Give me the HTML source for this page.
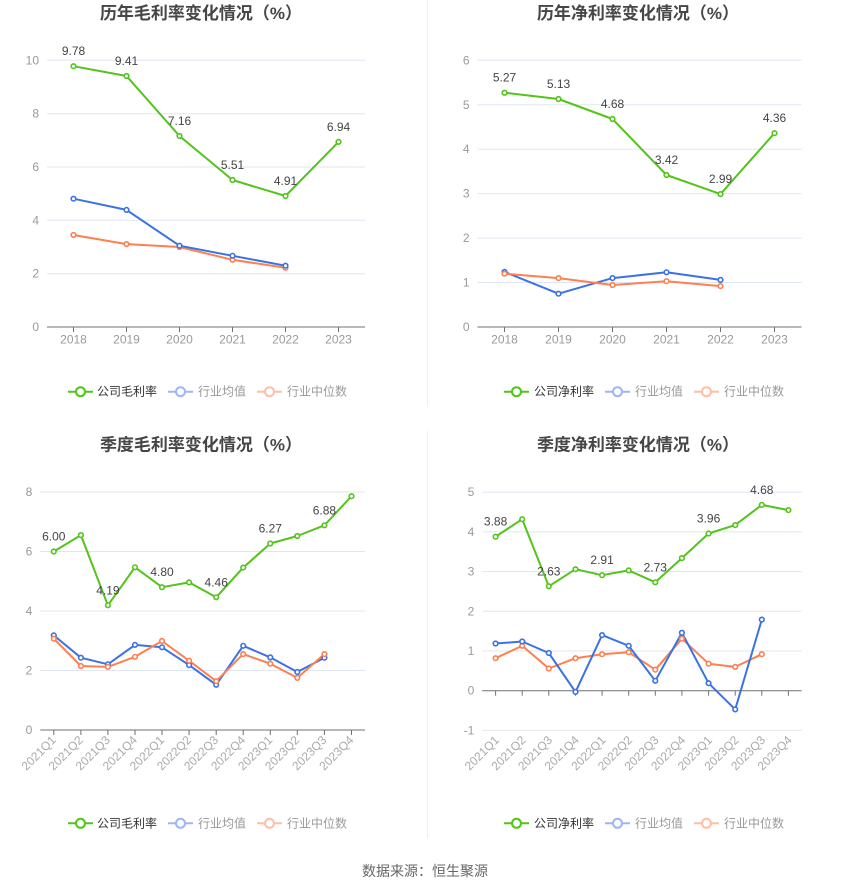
<!DOCTYPE html>
<html><head><meta charset="utf-8"><style>
html,body{margin:0;padding:0;background:#fff;}
svg{display:block;font-family:"Liberation Sans","Noto Sans CJK SC",sans-serif;}
.t{font-size:17px;font-weight:bold;fill:#464646;text-anchor:middle;dominant-baseline:central;}
.g{stroke:#e0e6f1;stroke-width:1;}
.ax{stroke:#6e7079;stroke-width:1;}
.yl{font-size:12px;fill:#999;text-anchor:end;dominant-baseline:central;}
.xl{font-size:12px;fill:#999;text-anchor:middle;dominant-baseline:central;}
.xr{font-size:12px;fill:#aaa;text-anchor:end;dominant-baseline:central;}
.dl{font-size:12px;fill:#444;text-anchor:middle;dominant-baseline:central;}
.lg{font-size:12px;dominant-baseline:central;}
.ln{fill:none;stroke-width:2;stroke-linejoin:round;}
.gr{stroke:#52c41a;}
.bl{stroke:#3a72e6;}
.or{stroke:#fe7f4f;}
.mk circle{fill:#fff;stroke-width:1.6;}
</style></head><body>
<svg width="850" height="891" viewBox="0 0 850 891" xmlns="http://www.w3.org/2000/svg">
<!-- dividers -->
<line x1="427.5" y1="0" x2="427.5" y2="407" stroke="#eeeeee"/>
<line x1="427.5" y1="431" x2="427.5" y2="838" stroke="#eeeeee"/>

<!-- ================= Chart 1 ================= -->
<text class="t" x="201" y="13.5">历年毛利率变化情况（%）</text>
<g>
<line class="g" x1="47" y1="60.3" x2="365" y2="60.3"/>
<line class="g" x1="47" y1="113.7" x2="365" y2="113.7"/>
<line class="g" x1="47" y1="167" x2="365" y2="167"/>
<line class="g" x1="47" y1="220.3" x2="365" y2="220.3"/>
<line class="g" x1="47" y1="273.7" x2="365" y2="273.7"/>
<line class="ax" x1="47" y1="327" x2="365" y2="327"/>
<g class="ax">
<line x1="73.5" y1="327" x2="73.5" y2="332"/><line x1="126.5" y1="327" x2="126.5" y2="332"/><line x1="179.5" y1="327" x2="179.5" y2="332"/><line x1="232.5" y1="327" x2="232.5" y2="332"/><line x1="285.5" y1="327" x2="285.5" y2="332"/><line x1="338.5" y1="327" x2="338.5" y2="332"/>
</g>
<text class="yl" x="39" y="60.3">10</text><text class="yl" x="39" y="113.7">8</text><text class="yl" x="39" y="167">6</text><text class="yl" x="39" y="220.3">4</text><text class="yl" x="39" y="273.7">2</text><text class="yl" x="39" y="327">0</text>
<text class="xl" x="73.5" y="339.5">2018</text><text class="xl" x="126.5" y="339.5">2019</text><text class="xl" x="179.5" y="339.5">2020</text><text class="xl" x="232.5" y="339.5">2021</text><text class="xl" x="285.5" y="339.5">2022</text><text class="xl" x="338.5" y="339.5">2023</text>
<polyline class="ln or" points="73.5,235 126.5,244.1 179.5,247 232.5,259.8 285.5,267.8"/>
<polyline class="ln bl" points="73.5,198.7 126.5,209.9 179.5,245.7 232.5,255.8 285.5,265.7"/>
<polyline class="ln gr" points="73.5,66.2 126.5,76 179.5,136 232.5,180 285.5,196 338.5,141.9"/>
<g class="mk or"><circle cx="73.5" cy="235" r="2.3"/><circle cx="126.5" cy="244.1" r="2.3"/><circle cx="179.5" cy="247" r="2.3"/><circle cx="232.5" cy="259.8" r="2.3"/><circle cx="285.5" cy="267.8" r="2.3"/></g>
<g class="mk bl"><circle cx="73.5" cy="198.7" r="2.3"/><circle cx="126.5" cy="209.9" r="2.3"/><circle cx="179.5" cy="245.7" r="2.3"/><circle cx="232.5" cy="255.8" r="2.3"/><circle cx="285.5" cy="265.7" r="2.3"/></g>
<g class="mk gr"><circle cx="73.5" cy="66.2" r="2.3"/><circle cx="126.5" cy="76" r="2.3"/><circle cx="179.5" cy="136" r="2.3"/><circle cx="232.5" cy="180" r="2.3"/><circle cx="285.5" cy="196" r="2.3"/><circle cx="338.5" cy="141.9" r="2.3"/></g>
<text class="dl" x="73.5" y="51">9.78</text><text class="dl" x="126.5" y="61">9.41</text><text class="dl" x="179.5" y="121">7.16</text><text class="dl" x="232.5" y="165">5.51</text><text class="dl" x="285.5" y="181">4.91</text><text class="dl" x="338.5" y="127">6.94</text>
<!-- legend -->
<line x1="68" y1="391.7" x2="93" y2="391.7" stroke="#52c41a" stroke-width="2"/><circle cx="80.5" cy="391.7" r="4.5" fill="#fff" stroke="#52c41a" stroke-width="2"/>
<text class="lg" x="97" y="391.7" fill="#333">公司毛利率</text>
<line x1="168" y1="391.7" x2="193" y2="391.7" stroke="#9cb8f2" stroke-width="2"/><circle cx="180.5" cy="391.7" r="4.5" fill="#fff" stroke="#9cb8f2" stroke-width="2"/>
<text class="lg" x="198" y="391.7" fill="#999">行业均值</text>
<line x1="257" y1="391.7" x2="282" y2="391.7" stroke="#ffbea6" stroke-width="2"/><circle cx="269.5" cy="391.7" r="4.5" fill="#fff" stroke="#ffbea6" stroke-width="2"/>
<text class="lg" x="287" y="391.7" fill="#999">行业中位数</text>
</g>

<!-- ================= Chart 2 ================= -->
<text class="t" x="638" y="13.5">历年净利率变化情况（%）</text>
<g>
<line class="g" x1="477.5" y1="60.3" x2="801.5" y2="60.3"/>
<line class="g" x1="477.5" y1="104.75" x2="801.5" y2="104.75"/>
<line class="g" x1="477.5" y1="149.2" x2="801.5" y2="149.2"/>
<line class="g" x1="477.5" y1="193.65" x2="801.5" y2="193.65"/>
<line class="g" x1="477.5" y1="238.1" x2="801.5" y2="238.1"/>
<line class="g" x1="477.5" y1="282.55" x2="801.5" y2="282.55"/>
<line class="ax" x1="477.5" y1="327" x2="801.5" y2="327"/>
<g class="ax">
<line x1="504.5" y1="327" x2="504.5" y2="332"/><line x1="558.5" y1="327" x2="558.5" y2="332"/><line x1="612.5" y1="327" x2="612.5" y2="332"/><line x1="666.5" y1="327" x2="666.5" y2="332"/><line x1="720.5" y1="327" x2="720.5" y2="332"/><line x1="774.5" y1="327" x2="774.5" y2="332"/>
</g>
<text class="yl" x="469.5" y="60.3">6</text><text class="yl" x="469.5" y="104.75">5</text><text class="yl" x="469.5" y="149.2">4</text><text class="yl" x="469.5" y="193.65">3</text><text class="yl" x="469.5" y="238.1">2</text><text class="yl" x="469.5" y="282.55">1</text><text class="yl" x="469.5" y="327">0</text>
<text class="xl" x="504.5" y="339.5">2018</text><text class="xl" x="558.5" y="339.5">2019</text><text class="xl" x="612.5" y="339.5">2020</text><text class="xl" x="666.5" y="339.5">2021</text><text class="xl" x="720.5" y="339.5">2022</text><text class="xl" x="774.5" y="339.5">2023</text>
<polyline class="ln bl" points="504.5,271.9 558.5,293.7 612.5,278.1 666.5,272.3 720.5,279.9"/>
<polyline class="ln or" points="504.5,273.7 558.5,278.1 612.5,285 666.5,281.2 720.5,286.1"/>
<polyline class="ln gr" points="504.5,92.75 558.5,99 612.5,119 666.5,175 720.5,194.1 774.5,133.2"/>
<g class="mk bl"><circle cx="504.5" cy="271.9" r="2.3"/><circle cx="558.5" cy="293.7" r="2.3"/><circle cx="612.5" cy="278.1" r="2.3"/><circle cx="666.5" cy="272.3" r="2.3"/><circle cx="720.5" cy="279.9" r="2.3"/></g>
<g class="mk or"><circle cx="504.5" cy="273.7" r="2.3"/><circle cx="558.5" cy="278.1" r="2.3"/><circle cx="612.5" cy="285" r="2.3"/><circle cx="666.5" cy="281.2" r="2.3"/><circle cx="720.5" cy="286.1" r="2.3"/></g>
<g class="mk gr"><circle cx="504.5" cy="92.75" r="2.3"/><circle cx="558.5" cy="99" r="2.3"/><circle cx="612.5" cy="119" r="2.3"/><circle cx="666.5" cy="175" r="2.3"/><circle cx="720.5" cy="194.1" r="2.3"/><circle cx="774.5" cy="133.2" r="2.3"/></g>
<text class="dl" x="504.5" y="77.7">5.27</text><text class="dl" x="558.5" y="84">5.13</text><text class="dl" x="612.5" y="104">4.68</text><text class="dl" x="666.5" y="160">3.42</text><text class="dl" x="720.5" y="179">2.99</text><text class="dl" x="774.5" y="118.2">4.36</text>
<line x1="504" y1="391.7" x2="529" y2="391.7" stroke="#52c41a" stroke-width="2"/><circle cx="516.5" cy="391.7" r="4.5" fill="#fff" stroke="#52c41a" stroke-width="2"/>
<text class="lg" x="534" y="391.7" fill="#333">公司净利率</text>
<line x1="605" y1="391.7" x2="630" y2="391.7" stroke="#9cb8f2" stroke-width="2"/><circle cx="617.5" cy="391.7" r="4.5" fill="#fff" stroke="#9cb8f2" stroke-width="2"/>
<text class="lg" x="635" y="391.7" fill="#999">行业均值</text>
<line x1="694" y1="391.7" x2="719" y2="391.7" stroke="#ffbea6" stroke-width="2"/><circle cx="706.5" cy="391.7" r="4.5" fill="#fff" stroke="#ffbea6" stroke-width="2"/>
<text class="lg" x="724" y="391.7" fill="#999">行业中位数</text>
</g>

<!-- ================= Chart 3 ================= -->
<text class="t" x="201" y="445">季度毛利率变化情况（%）</text>
<g>
<line class="g" x1="40.3" y1="492" x2="365" y2="492"/>
<line class="g" x1="40.3" y1="551.5" x2="365" y2="551.5"/>
<line class="g" x1="40.3" y1="611" x2="365" y2="611"/>
<line class="g" x1="40.3" y1="670.5" x2="365" y2="670.5"/>
<line class="ax" x1="40.3" y1="730" x2="365" y2="730"/>
<g class="ax">
<line x1="53.8" y1="730" x2="53.8" y2="735"/><line x1="80.9" y1="730" x2="80.9" y2="735"/><line x1="107.9" y1="730" x2="107.9" y2="735"/><line x1="135" y1="730" x2="135" y2="735"/><line x1="162" y1="730" x2="162" y2="735"/><line x1="189.1" y1="730" x2="189.1" y2="735"/><line x1="216.2" y1="730" x2="216.2" y2="735"/><line x1="243.2" y1="730" x2="243.2" y2="735"/><line x1="270.3" y1="730" x2="270.3" y2="735"/><line x1="297.3" y1="730" x2="297.3" y2="735"/><line x1="324.4" y1="730" x2="324.4" y2="735"/><line x1="351.5" y1="730" x2="351.5" y2="735"/>
</g>
<text class="yl" x="32.3" y="492">8</text><text class="yl" x="32.3" y="551.5">6</text><text class="yl" x="32.3" y="611">4</text><text class="yl" x="32.3" y="670.5">2</text><text class="yl" x="32.3" y="730">0</text>
<text class="xr" transform="translate(53.8,738) rotate(-45)">2021Q1</text>
<text class="xr" transform="translate(80.9,738) rotate(-45)">2021Q2</text>
<text class="xr" transform="translate(107.9,738) rotate(-45)">2021Q3</text>
<text class="xr" transform="translate(135,738) rotate(-45)">2021Q4</text>
<text class="xr" transform="translate(162,738) rotate(-45)">2022Q1</text>
<text class="xr" transform="translate(189.1,738) rotate(-45)">2022Q2</text>
<text class="xr" transform="translate(216.2,738) rotate(-45)">2022Q3</text>
<text class="xr" transform="translate(243.2,738) rotate(-45)">2022Q4</text>
<text class="xr" transform="translate(270.3,738) rotate(-45)">2023Q1</text>
<text class="xr" transform="translate(297.3,738) rotate(-45)">2023Q2</text>
<text class="xr" transform="translate(324.4,738) rotate(-45)">2023Q3</text>
<text class="xr" transform="translate(351.5,738) rotate(-45)">2023Q4</text>
<polyline class="ln bl" points="53.8,635.4 80.9,657.7 107.9,664.3 135,644.9 162,647.3 189.1,665.1 216.2,684.8 243.2,645.8 270.3,657.4 297.3,672 324.4,657.7"/>
<polyline class="ln or" points="53.8,638.7 80.9,666 107.9,666.9 135,656.8 162,641 189.1,660.7 216.2,681.2 243.2,654.1 270.3,663.7 297.3,677.9 324.4,654.1"/>
<polyline class="ln gr" points="53.8,551.5 80.9,535.1 107.9,605.3 135,567.3 162,587.2 189.1,582.4 216.2,597.3 243.2,567.6 270.3,543.5 297.3,536 324.4,525.3 351.5,496.2"/>
<g class="mk bl"><circle cx="53.8" cy="635.4" r="2.3"/><circle cx="80.9" cy="657.7" r="2.3"/><circle cx="107.9" cy="664.3" r="2.3"/><circle cx="135" cy="644.9" r="2.3"/><circle cx="162" cy="647.3" r="2.3"/><circle cx="189.1" cy="665.1" r="2.3"/><circle cx="216.2" cy="684.8" r="2.3"/><circle cx="243.2" cy="645.8" r="2.3"/><circle cx="270.3" cy="657.4" r="2.3"/><circle cx="297.3" cy="672" r="2.3"/><circle cx="324.4" cy="657.7" r="2.3"/></g>
<g class="mk or"><circle cx="53.8" cy="638.7" r="2.3"/><circle cx="80.9" cy="666" r="2.3"/><circle cx="107.9" cy="666.9" r="2.3"/><circle cx="135" cy="656.8" r="2.3"/><circle cx="162" cy="641" r="2.3"/><circle cx="189.1" cy="660.7" r="2.3"/><circle cx="216.2" cy="681.2" r="2.3"/><circle cx="243.2" cy="654.1" r="2.3"/><circle cx="270.3" cy="663.7" r="2.3"/><circle cx="297.3" cy="677.9" r="2.3"/><circle cx="324.4" cy="654.1" r="2.3"/></g>
<g class="mk gr"><circle cx="53.8" cy="551.5" r="2.3"/><circle cx="80.9" cy="535.1" r="2.3"/><circle cx="107.9" cy="605.3" r="2.3"/><circle cx="135" cy="567.3" r="2.3"/><circle cx="162" cy="587.2" r="2.3"/><circle cx="189.1" cy="582.4" r="2.3"/><circle cx="216.2" cy="597.3" r="2.3"/><circle cx="243.2" cy="567.6" r="2.3"/><circle cx="270.3" cy="543.5" r="2.3"/><circle cx="297.3" cy="536" r="2.3"/><circle cx="324.4" cy="525.3" r="2.3"/><circle cx="351.5" cy="496.2" r="2.3"/></g>
<text class="dl" x="53.8" y="536.5">6.00</text><text class="dl" x="107.9" y="590.3">4.19</text><text class="dl" x="162" y="572.2">4.80</text><text class="dl" x="216.2" y="582.3">4.46</text><text class="dl" x="270.3" y="528.5">6.27</text><text class="dl" x="324.4" y="510.3">6.88</text>
<line x1="68" y1="823.3" x2="93" y2="823.3" stroke="#52c41a" stroke-width="2"/><circle cx="80.5" cy="823.3" r="4.5" fill="#fff" stroke="#52c41a" stroke-width="2"/>
<text class="lg" x="97" y="823.3" fill="#333">公司毛利率</text>
<line x1="168" y1="823.3" x2="193" y2="823.3" stroke="#9cb8f2" stroke-width="2"/><circle cx="180.5" cy="823.3" r="4.5" fill="#fff" stroke="#9cb8f2" stroke-width="2"/>
<text class="lg" x="198" y="823.3" fill="#999">行业均值</text>
<line x1="257" y1="823.3" x2="282" y2="823.3" stroke="#ffbea6" stroke-width="2"/><circle cx="269.5" cy="823.3" r="4.5" fill="#fff" stroke="#ffbea6" stroke-width="2"/>
<text class="lg" x="287" y="823.3" fill="#999">行业中位数</text>
</g>

<!-- ================= Chart 4 ================= -->
<text class="t" x="638" y="445">季度净利率变化情况（%）</text>
<g>
<line class="g" x1="482.3" y1="492.2" x2="801.7" y2="492.2"/>
<line class="g" x1="482.3" y1="531.9" x2="801.7" y2="531.9"/>
<line class="g" x1="482.3" y1="571.6" x2="801.7" y2="571.6"/>
<line class="g" x1="482.3" y1="611.3" x2="801.7" y2="611.3"/>
<line class="g" x1="482.3" y1="651" x2="801.7" y2="651"/>
<line class="g" x1="482.3" y1="730.4" x2="801.7" y2="730.4"/>
<line class="ax" x1="482.3" y1="690.7" x2="801.7" y2="690.7"/>
<g class="ax">
<line x1="495.6" y1="690.7" x2="495.6" y2="695.7"/><line x1="522.2" y1="690.7" x2="522.2" y2="695.7"/><line x1="548.8" y1="690.7" x2="548.8" y2="695.7"/><line x1="575.5" y1="690.7" x2="575.5" y2="695.7"/><line x1="602.1" y1="690.7" x2="602.1" y2="695.7"/><line x1="628.7" y1="690.7" x2="628.7" y2="695.7"/><line x1="655.3" y1="690.7" x2="655.3" y2="695.7"/><line x1="681.9" y1="690.7" x2="681.9" y2="695.7"/><line x1="708.6" y1="690.7" x2="708.6" y2="695.7"/><line x1="735.2" y1="690.7" x2="735.2" y2="695.7"/><line x1="761.8" y1="690.7" x2="761.8" y2="695.7"/><line x1="788.4" y1="690.7" x2="788.4" y2="695.7"/>
</g>
<text class="yl" x="474.3" y="492.2">5</text><text class="yl" x="474.3" y="531.9">4</text><text class="yl" x="474.3" y="571.6">3</text><text class="yl" x="474.3" y="611.3">2</text><text class="yl" x="474.3" y="651">1</text><text class="yl" x="474.3" y="690.7">0</text><text class="yl" x="474.3" y="730.4">-1</text>
<text class="xr" transform="translate(497,738) rotate(-45)">2021Q1</text>
<text class="xr" transform="translate(523.6,738) rotate(-45)">2021Q2</text>
<text class="xr" transform="translate(550.2,738) rotate(-45)">2021Q3</text>
<text class="xr" transform="translate(576.9,738) rotate(-45)">2021Q4</text>
<text class="xr" transform="translate(603.5,738) rotate(-45)">2022Q1</text>
<text class="xr" transform="translate(630.1,738) rotate(-45)">2022Q2</text>
<text class="xr" transform="translate(656.7,738) rotate(-45)">2022Q3</text>
<text class="xr" transform="translate(683.3,738) rotate(-45)">2022Q4</text>
<text class="xr" transform="translate(710,738) rotate(-45)">2023Q1</text>
<text class="xr" transform="translate(736.6,738) rotate(-45)">2023Q2</text>
<text class="xr" transform="translate(763.2,738) rotate(-45)">2023Q3</text>
<text class="xr" transform="translate(789.8,738) rotate(-45)">2023Q4</text>
<polyline class="ln or" points="495.6,658.2 522.2,645.8 548.8,668.5 575.5,658.2 602.1,654.2 628.7,652.2 655.3,669.7 681.9,638.7 708.6,663.7 735.2,666.9 761.8,654.2"/>
<polyline class="ln bl" points="495.6,643.5 522.2,641.5 548.8,653 575.5,691.9 602.1,635.1 628.7,645.8 655.3,680.8 681.9,632.7 708.6,683.2 735.2,709.4 761.8,619.6"/>
<polyline class="ln gr" points="495.6,536.7 522.2,519.2 548.8,586.3 575.5,569.2 602.1,575.2 628.7,570.4 655.3,582.3 681.9,558.1 708.6,533.5 735.2,525.1 761.8,504.9 788.4,510.1"/>
<g class="mk or"><circle cx="495.6" cy="658.2" r="2.3"/><circle cx="522.2" cy="645.8" r="2.3"/><circle cx="548.8" cy="668.5" r="2.3"/><circle cx="575.5" cy="658.2" r="2.3"/><circle cx="602.1" cy="654.2" r="2.3"/><circle cx="628.7" cy="652.2" r="2.3"/><circle cx="655.3" cy="669.7" r="2.3"/><circle cx="681.9" cy="638.7" r="2.3"/><circle cx="708.6" cy="663.7" r="2.3"/><circle cx="735.2" cy="666.9" r="2.3"/><circle cx="761.8" cy="654.2" r="2.3"/></g>
<g class="mk bl"><circle cx="495.6" cy="643.5" r="2.3"/><circle cx="522.2" cy="641.5" r="2.3"/><circle cx="548.8" cy="653" r="2.3"/><circle cx="575.5" cy="691.9" r="2.3"/><circle cx="602.1" cy="635.1" r="2.3"/><circle cx="628.7" cy="645.8" r="2.3"/><circle cx="655.3" cy="680.8" r="2.3"/><circle cx="681.9" cy="632.7" r="2.3"/><circle cx="708.6" cy="683.2" r="2.3"/><circle cx="735.2" cy="709.4" r="2.3"/><circle cx="761.8" cy="619.6" r="2.3"/></g>
<g class="mk gr"><circle cx="495.6" cy="536.7" r="2.3"/><circle cx="522.2" cy="519.2" r="2.3"/><circle cx="548.8" cy="586.3" r="2.3"/><circle cx="575.5" cy="569.2" r="2.3"/><circle cx="602.1" cy="575.2" r="2.3"/><circle cx="628.7" cy="570.4" r="2.3"/><circle cx="655.3" cy="582.3" r="2.3"/><circle cx="681.9" cy="558.1" r="2.3"/><circle cx="708.6" cy="533.5" r="2.3"/><circle cx="735.2" cy="525.1" r="2.3"/><circle cx="761.8" cy="504.9" r="2.3"/><circle cx="788.4" cy="510.1" r="2.3"/></g>
<text class="dl" x="495.6" y="521.7">3.88</text><text class="dl" x="548.8" y="571.3">2.63</text><text class="dl" x="602.1" y="560.2">2.91</text><text class="dl" x="655.3" y="567.3">2.73</text><text class="dl" x="708.6" y="518.5">3.96</text><text class="dl" x="761.8" y="489.9">4.68</text>
<line x1="504" y1="823.3" x2="529" y2="823.3" stroke="#52c41a" stroke-width="2"/><circle cx="516.5" cy="823.3" r="4.5" fill="#fff" stroke="#52c41a" stroke-width="2"/>
<text class="lg" x="534" y="823.3" fill="#333">公司净利率</text>
<line x1="605" y1="823.3" x2="630" y2="823.3" stroke="#9cb8f2" stroke-width="2"/><circle cx="617.5" cy="823.3" r="4.5" fill="#fff" stroke="#9cb8f2" stroke-width="2"/>
<text class="lg" x="635" y="823.3" fill="#999">行业均值</text>
<line x1="694" y1="823.3" x2="719" y2="823.3" stroke="#ffbea6" stroke-width="2"/><circle cx="706.5" cy="823.3" r="4.5" fill="#fff" stroke="#ffbea6" stroke-width="2"/>
<text class="lg" x="724" y="823.3" fill="#999">行业中位数</text>
</g>

<!-- footer -->
<text x="425" y="871" font-size="14" fill="#666" text-anchor="middle" dominant-baseline="central">数据来源：恒生聚源</text>
</svg>
</body></html>
